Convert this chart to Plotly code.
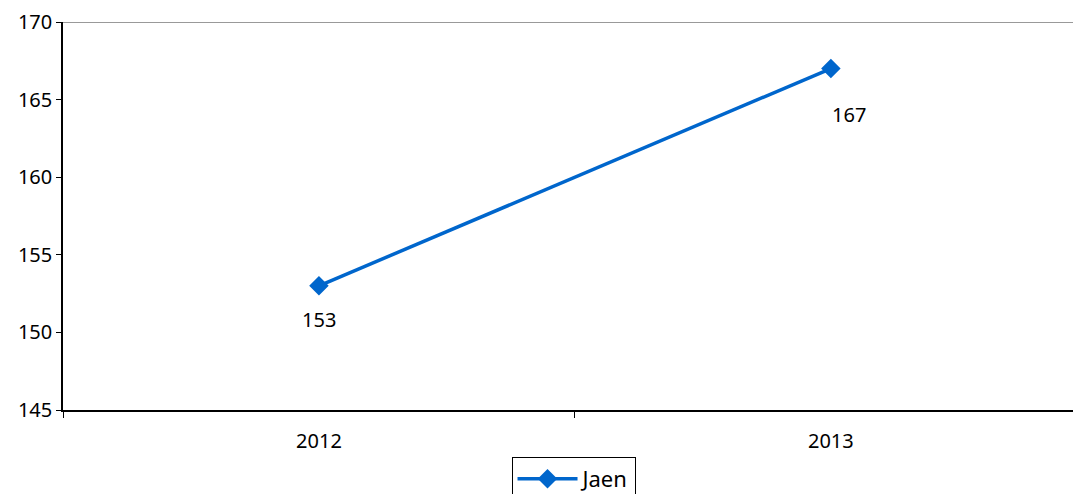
import plotly.graph_objects as go

categories = ["2012", "2013"]
values = [153, 167]
series_name = "Jaen"
y_ticks = [145, 150, 155, 160, 165, 170]

FONT = "Noto Sans"
BLUE = "#0066CC"

fig = go.Figure()
fig.add_trace(go.Scatter(
    x=categories, y=values, name=series_name,
    mode="lines+markers",
    line=dict(color=BLUE, width=3.5),
    marker=dict(symbol="diamond", size=15, color=BLUE),
    showlegend=True,
))

# data labels below the points (x given as category index)
label_shift = [(0, -34), (18, -46)]
for i, (v, (dx, dy)) in enumerate(zip(values, label_shift)):
    fig.add_annotation(x=i, y=v, xref="x", yref="y", text=str(v),
                       showarrow=False, xshift=dx, yshift=dy,
                       font=dict(family=FONT, size=20, color="black"))

# top grey border line at max value
fig.add_shape(type="line", xref="paper", x0=0, x1=1, yref="y",
              y0=y_ticks[-1], y1=y_ticks[-1],
              line=dict(color="#999999", width=2))

fig.update_layout(
    width=1073, height=494,
    margin=dict(l=63, r=0, t=22, b=84),
    paper_bgcolor="white", plot_bgcolor="white",
    font=dict(family=FONT, size=20, color="black"),
    legend=dict(orientation="h", x=0.5345, xanchor="center",
                xref="container", yref="container",
                y=0.075, yanchor="top", itemwidth=60,
                bordercolor="black", borderwidth=1, bgcolor="white",
                font=dict(family=FONT, size=22)),
    xaxis=dict(type="category", range=[-0.5, 1.473], automargin=False,
               tickson="boundaries", ticks="outside", ticklen=6,
               tickcolor="black", showline=True, linecolor="black",
               linewidth=1.5, showgrid=False, zeroline=False,
               ticklabelstandoff=12,
               tickfont=dict(family=FONT, size=20)),
    yaxis=dict(range=[y_ticks[0], y_ticks[-1]], tickvals=y_ticks,
               automargin=False, ticksuffix="\u00a0",
               ticks="outside", ticklen=5, tickcolor="black",
               showline=True, linecolor="black", linewidth=1.5,
               showgrid=False, zeroline=False,
               tickfont=dict(family=FONT, size=20)),
)

fig.write_html("out.html", config={"displayModeBar": False},
               post_script="document.body.style.margin='0';"
                           "document.body.style.overflow='hidden';")
